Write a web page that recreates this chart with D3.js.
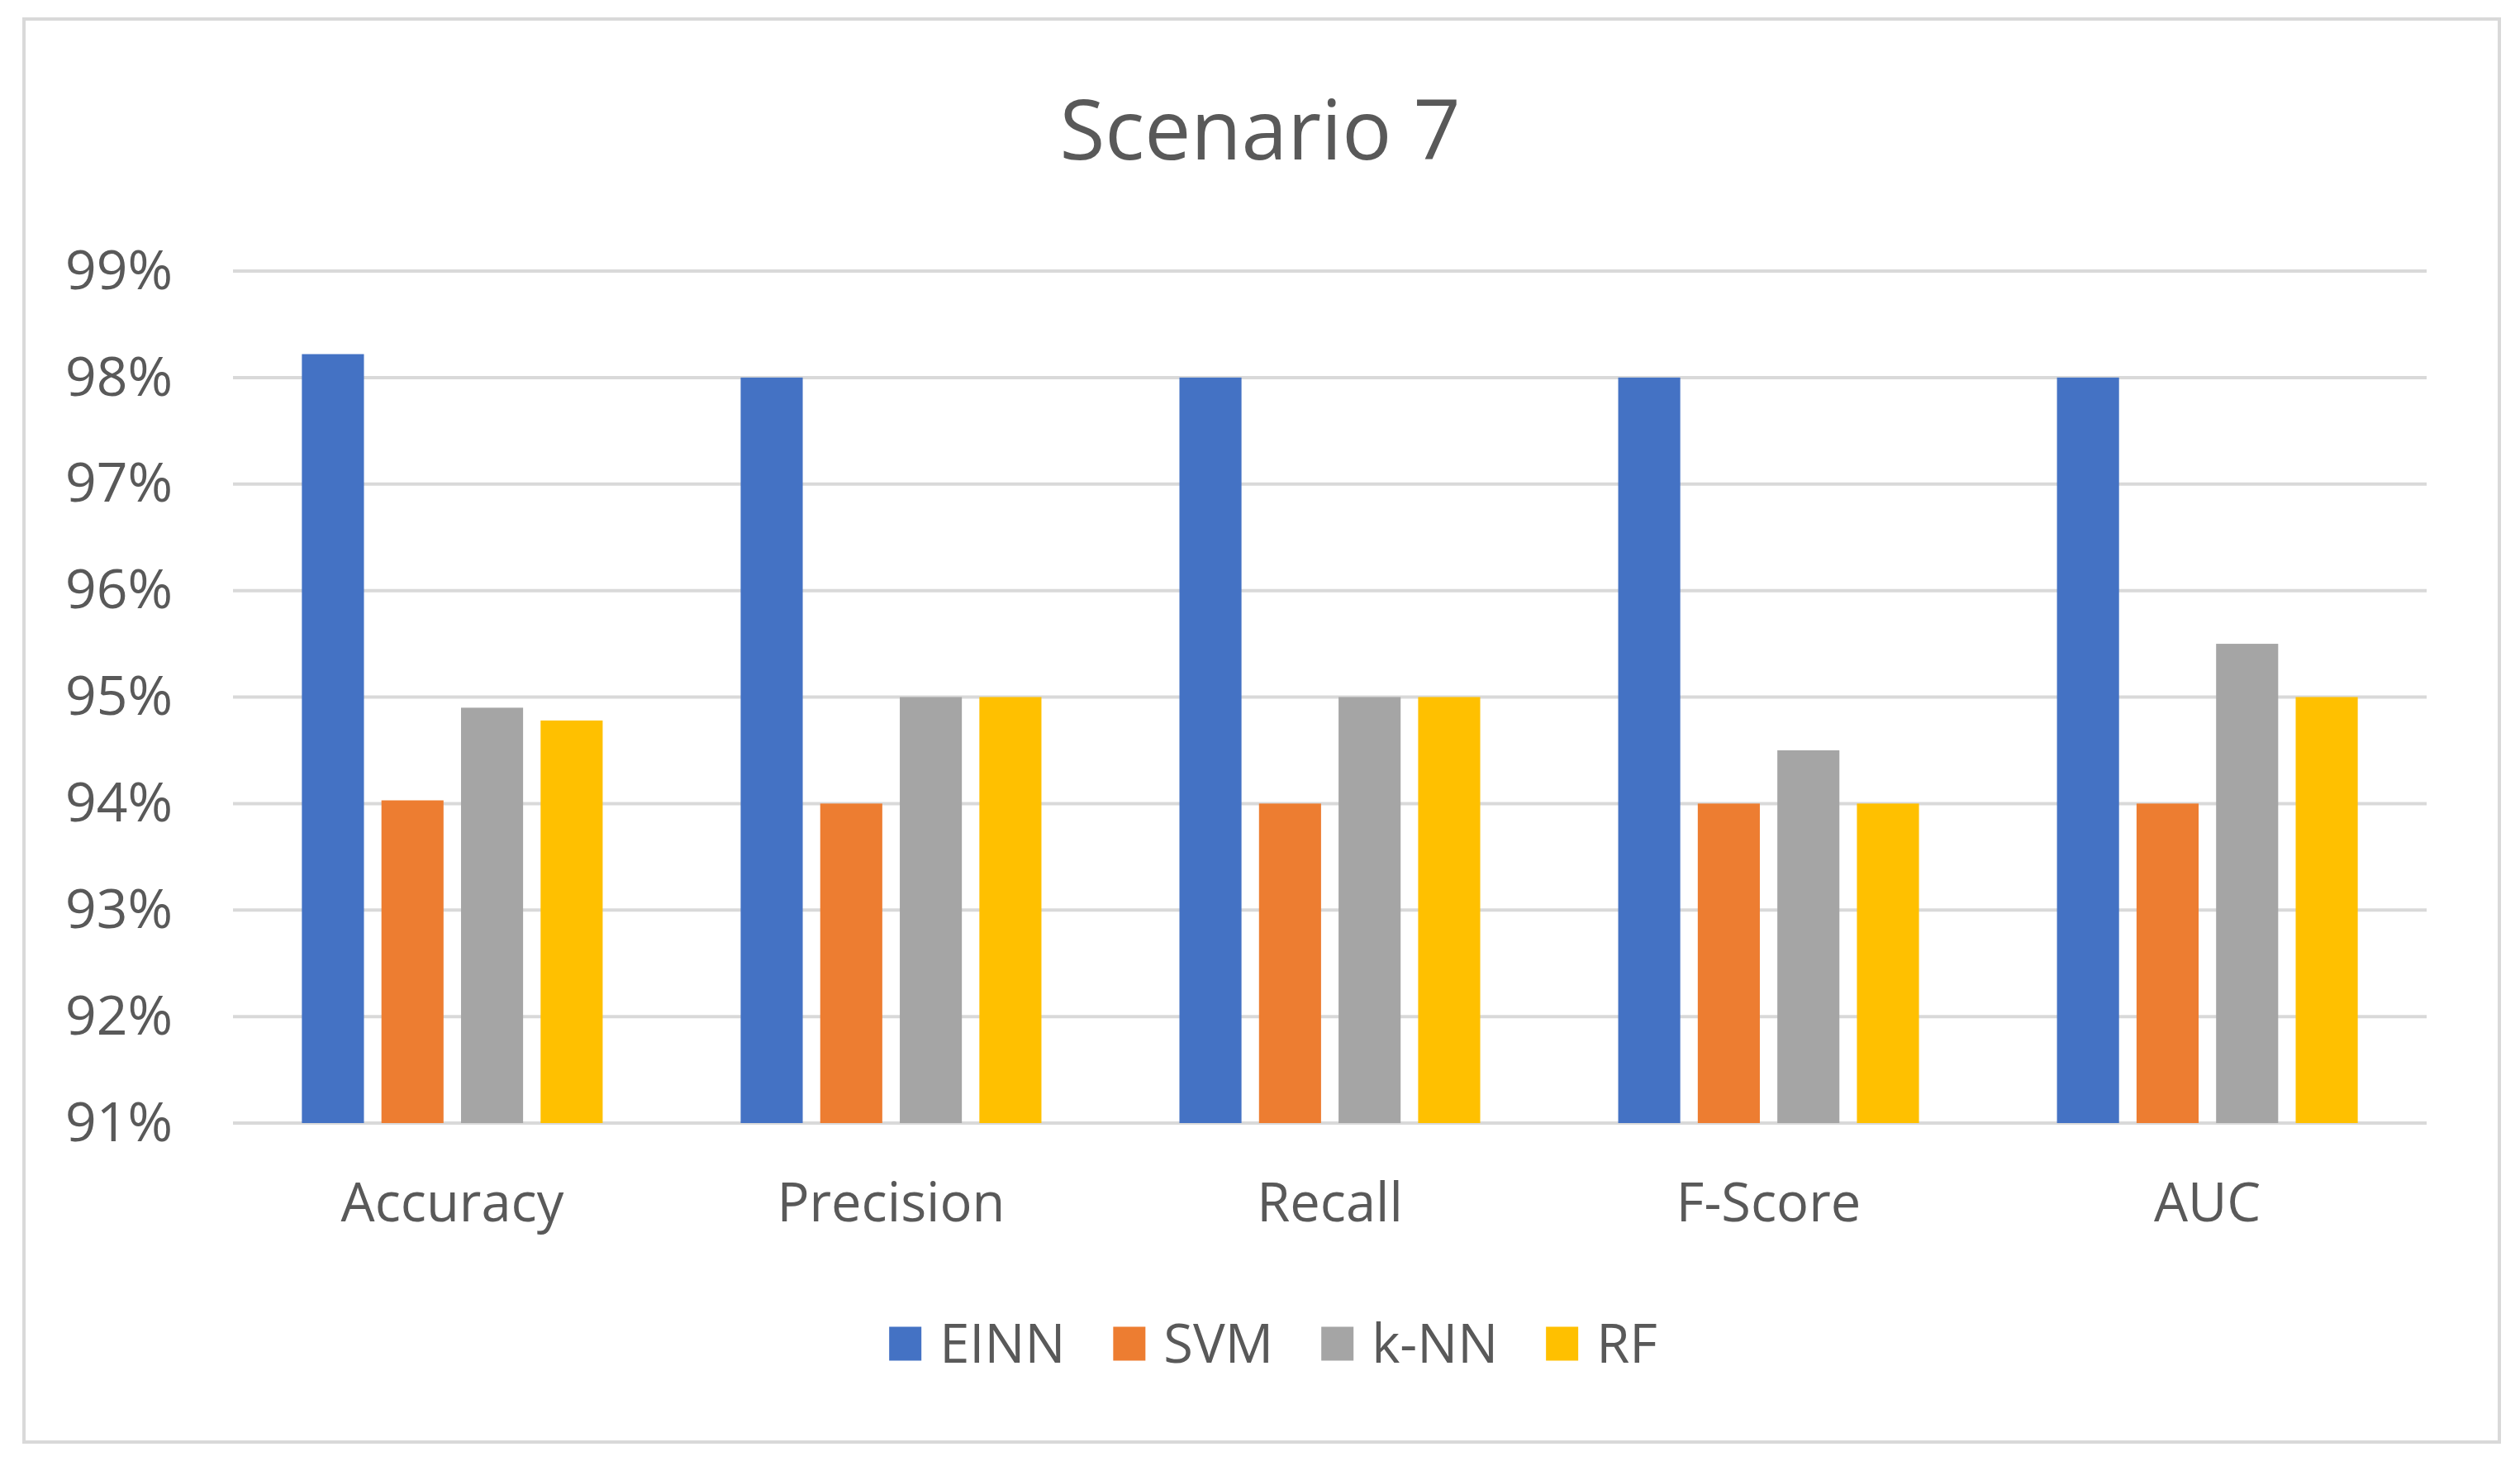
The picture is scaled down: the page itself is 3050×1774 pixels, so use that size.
<!DOCTYPE html>
<html>
<head>
<meta charset="utf-8">
<script src="https://cdn.jsdelivr.net/npm/d3@7"></script>
<style>
  body { margin: 0; background: #fff; }
  text { font-family: "Open Sans", "Noto Sans", sans-serif; fill: #595959; }
</style>
</head>
<body>
<script>
// data
var categories = ['Accuracy', 'Precision', 'Recall', 'F-Score', 'AUC']
var series = ['EINN', 'SVM', 'k-NN', 'RF']
var einn = [98.22, 98, 98, 98, 98]
var svm  = [94.03, 94, 94, 94, 94]
var knn  = [94.9, 95, 95, 94.5, 95.5]
var rf   = [94.78, 95, 95, 94, 95]
var yTicks = [91, 92, 93, 94, 95, 96, 97, 98, 99]
var colors = ['#4472C4', '#ED7D31', '#A5A5A5', '#FFC000']
var title = 'Scenario 7'

var values = [einn, svm, knn, rf]
var rows = categories.map(function(c, i) {
  return { cat: c, vals: series.map(function(s, j) { return { name: s, v: values[j][i], j: j } }) }
})

var W = 3050, H = 1774
var margin = { top: 328, right: 113, bottom: 415, left: 282 },
    width = W - margin.left - margin.right,
    height = H - margin.top - margin.bottom

var root = d3.select('body').append('svg')
  .attr('width', W)
  .attr('height', H)

// chart frame
root.append('rect')
  .attr('x', 29).attr('y', 23)
  .attr('width', 2996).attr('height', 1722)
  .attr('fill', '#fff')
  .attr('stroke', '#D9D9D9')
  .attr('stroke-width', 4)

root.append('text')
  .attr('x', 1525).attr('y', 193)
  .attr('text-anchor', 'middle')
  .style('font-size', '100px')
  .text(title)

var svg = root.append('g')
  .attr('transform', 'translate(' + margin.left + ',' + margin.top + ')')

var y = d3.scaleLinear().domain([91, 99]).range([height, 0])
var x0 = d3.scaleBand().domain(categories).range([0, width]).paddingInner(0.3145).paddingOuter(0.157)
var x1 = d3.scaleBand().domain(series).range([0, x0.bandwidth()]).paddingInner(0.22)

// gridlines
svg.selectAll('line.grid')
  .data(yTicks)
  .enter().append('line')
  .attr('class', 'grid')
  .attr('x1', 0).attr('x2', width)
  .attr('y1', function(d) { return y(d) })
  .attr('y2', function(d) { return y(d) })
  .attr('stroke', '#D9D9D9')
  .attr('stroke-width', 4)

// y labels
var yAxis = d3.axisLeft(y).tickValues(yTicks).tickSize(0).tickPadding(73)
  .tickFormat(function(d) { return d + '%' })
svg.append('g').call(yAxis)
  .call(function(g) { g.select('.domain').remove() })
  .selectAll('text')
  .style('font-size', '66px')
  .attr('fill', '#595959')
  .style('font-family', '"Open Sans", "Noto Sans", sans-serif')

// bars
var groups = svg.selectAll('g.cat')
  .data(rows)
  .enter().append('g')
  .attr('class', 'cat')
  .attr('transform', function(d) { return 'translate(' + x0(d.cat) + ',0)' })

groups.selectAll('rect')
  .data(function(d) { return d.vals })
  .enter().append('rect')
  .attr('x', function(d) { return x1(d.name) })
  .attr('width', x1.bandwidth())
  .attr('y', function(d) { return y(d.v) })
  .attr('height', function(d) { return height - y(d.v) })
  .attr('fill', function(d) { return colors[d.j] })

// x labels
var xAxis = d3.axisBottom(x0).tickSize(0).tickPadding(73)
svg.append('g')
  .attr('transform', 'translate(0,' + height + ')')
  .call(xAxis)
  .call(function(g) { g.select('.domain').remove() })
  .selectAll('text')
  .style('font-size', '65px')
  .attr('fill', '#595959')
  .style('font-family', '"Open Sans", "Noto Sans", sans-serif')

// legend
var legend = root.append('g')
var items = legend.selectAll('g.item')
  .data(series)
  .enter().append('g')
  .attr('class', 'item')
items.append('rect')
  .attr('width', 39).attr('height', 41)
  .attr('y', -41 / 2)
  .attr('fill', function(d, i) { return colors[i] })
items.append('text')
  .attr('x', 61)
  .attr('dy', '0.35em')
  .style('font-size', '65px')
  .text(function(d) { return d })

var pos = 0
items.each(function() {
  d3.select(this).attr('transform', 'translate(' + pos + ',0)')
  pos += 61 + this.querySelector('text').getComputedTextLength() + 58
})
var total = pos - 58
legend.attr('transform', 'translate(' + (1541 - total / 2) + ',1626)')
</script>
</body>
</html>
